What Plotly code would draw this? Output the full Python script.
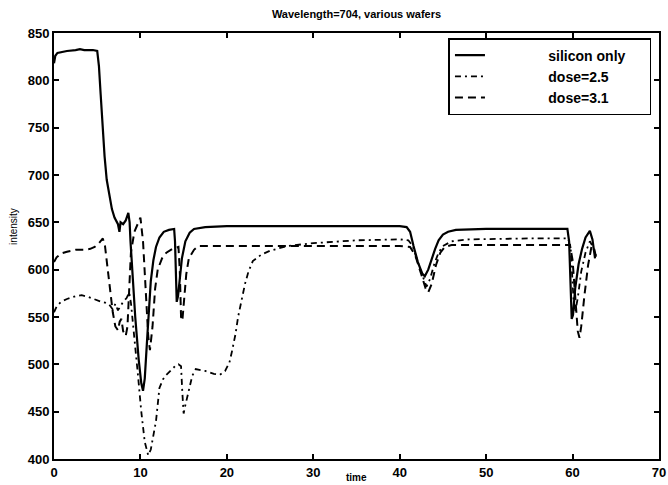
import plotly.graph_objects as go

# ---- data ----
si_t = [0, 0.15, 0.4, 0.8, 1.5, 2.5, 3.0, 3.5, 4.5, 5.0, 5.2, 5.4, 5.6, 5.85, 6.1, 6.4, 6.7, 7.0,
        7.2, 7.4, 7.57, 7.7, 8.0, 8.3, 8.6, 8.75, 8.85, 9.1, 9.4, 9.8, 10.1, 10.3, 10.5, 10.8,
        11.2, 11.5, 11.8, 12.2, 12.7, 13.3, 13.9, 14.0, 14.1, 14.2, 14.35, 14.5, 14.8, 15.2,
        15.7, 16.2, 17.5, 20, 25, 30, 35, 40, 40.8, 41.2, 41.6, 42.1, 42.6, 42.9, 43.3, 43.7,
        44.1, 44.5, 45.0, 45.6, 46.5, 50, 55, 59.4, 59.6, 59.75, 59.9, 60.05, 60.3, 60.7, 61.1,
        61.5, 62.0, 62.3, 62.6]
si_v = [818, 826, 829, 830, 831, 832, 833, 832, 832, 831, 815, 785, 755, 720, 695, 678, 664, 655,
        652, 648, 640, 650, 648, 652, 660, 650, 630, 588, 550, 505, 480, 472, 485, 530,
        588, 610, 624, 634, 640, 642, 643, 630, 580, 566, 572, 585, 612, 630,
        639, 643, 645, 646, 646, 646, 646, 646, 645, 640, 625, 608, 596, 593, 600, 612,
        622, 631, 637, 640, 642, 643, 643, 643, 630, 590, 548, 552, 580, 606, 622,
        634, 641, 632, 612]

d25_t = [0, 0.3, 0.8, 1.5, 2.5, 3.2, 4.0, 4.8, 5.5, 6.0, 6.4, 6.8, 7.1, 7.4, 7.7, 8.0, 8.4, 8.7,
         8.9, 9.3, 9.7, 10.1, 10.5, 10.9, 11.2, 11.5, 11.8, 12.2, 12.6, 12.9, 13.5, 14.0, 14.4,
         14.7, 14.85, 15.0, 15.15, 15.4, 15.6, 16.0, 16.4, 17.0, 17.5, 18.5, 19.2, 19.8, 20.3,
         20.6, 21.0, 21.3, 21.7, 22.1, 22.5, 23.0, 24, 25, 27, 30, 35, 40, 41.0, 41.5, 42.2,
         42.8, 43.1, 43.5, 44.0, 44.5, 45.0, 46.0, 48, 55, 59.5, 59.8, 60.1, 60.3, 60.6, 61.0,
         61.5, 62.0, 62.3, 62.7]
d25_v = [555, 561, 566, 569, 572, 573, 571, 568, 566, 565, 563, 558, 564, 557, 562, 566, 570, 576,
         565, 530, 490, 450, 418, 404, 410, 425, 440, 475, 484, 488, 494, 498, 500,
         498, 470, 448, 455, 465, 474, 488, 495, 494, 493, 490, 489, 493, 502,
         514, 532, 550, 568, 585, 598, 609, 616, 620, 625, 628, 631, 632, 631, 625, 605,
         588, 582, 590, 606, 618, 625, 630, 632, 633, 633, 620, 570, 555, 570, 598,
         618, 630, 625, 615]

d31_t = [0, 0.3, 0.8, 1.5, 2.5, 3.5, 4.2, 4.7, 5.2, 5.65, 5.9, 6.1, 6.4, 6.8, 7.1, 7.4, 7.6, 7.8,
         8.0, 8.3, 8.5, 8.7, 8.9, 9.3, 9.7, 10.0, 10.3, 10.6, 10.9, 11.1, 11.4, 11.7, 12.0, 12.5,
         13.0, 13.7, 14.4, 14.55, 14.7, 14.85, 15.0, 15.3, 15.6, 16.2, 16.7, 18, 20, 25, 30, 35,
         40, 41.2, 41.8, 42.5, 43.0, 43.3, 43.7, 44.2, 44.7, 45.2, 46, 50, 55, 59.7, 60.0, 60.3,
         60.6, 60.8, 61.0, 61.4, 61.8, 62.2, 62.5, 62.8]
d31_v = [608, 613, 617, 619, 621, 621, 622, 624, 628, 633, 625, 610, 585, 555, 540, 536, 545, 548,
         535, 530, 540, 575, 618, 640, 648, 655, 630, 580, 530, 515, 540, 580, 600, 612,
         618, 622, 624, 600, 550, 546, 565, 595, 612, 621, 625, 625, 625, 625, 625, 625,
         625, 624, 615, 595, 580, 576, 585, 605, 618, 624, 626, 626, 626, 626, 610, 570,
         535, 528, 540, 575, 605, 625, 622, 610]

series_names = ["silicon only", "dose=2.5", "dose=3.1"]
x_ticks = [0, 10, 20, 30, 40, 50, 60, 70]
y_ticks = [400, 450, 500, 550, 600, 650, 700, 750, 800, 850]

FONT = "Liberation Sans, Arial, sans-serif"
PAD_L = "\u00a0" * 15
PAD_R = "\u00a0" * 5

fig = go.Figure()
fig.add_trace(go.Scatter(x=si_t, y=si_v, mode="lines", name=PAD_L + series_names[0] + PAD_R,
                         line=dict(color="black", width=2.2, dash="solid")))
fig.add_trace(go.Scatter(x=d25_t, y=d25_v, mode="lines", name=PAD_L + series_names[1] + PAD_R,
                         line=dict(color="black", width=1.8, dash="6px,4px,2px,4px")))
fig.add_trace(go.Scatter(x=d31_t, y=d31_v, mode="lines", name=PAD_L + series_names[2] + PAD_R,
                         line=dict(color="black", width=2.0, dash="8px,5px")))

axis_common = dict(showline=True, linecolor="black", linewidth=2, mirror="ticks",
                   ticks="inside", ticklen=5, tickwidth=1.5, tickcolor="black",
                   showgrid=False, zeroline=False, ticklabeloverflow="allow",
                   tickfont=dict(family=FONT, size=13, color="black", weight="bold"))

fig.update_layout(
    width=668, height=485,
    margin=dict(l=54, r=2, t=33, b=26),
    paper_bgcolor="white", plot_bgcolor="white",
    title=dict(text="Wavelength=704, various wafers", x=0.5, xref="paper",
               y=1 - 14 / 485, yanchor="middle",
               font=dict(family=FONT, size=11, color="black", weight="bold")),
    xaxis=dict(range=[0, 70], tickvals=x_ticks, **axis_common),
    yaxis=dict(range=[400, 850], tickvals=y_ticks, **axis_common),
    legend=dict(x=0.652, y=0.988, xanchor="left", yanchor="top",
                bordercolor="black", borderwidth=1.5, bgcolor="white",
                font=dict(family=FONT, size=14, color="black", weight="bold"),
                tracegroupgap=0),
    showlegend=True,
    annotations=[
        dict(text="time", xref="paper", yref="paper", x=0.5, y=-0.044,
             showarrow=False, yanchor="middle",
             font=dict(family=FONT, size=10, color="black", weight="bold")),
        dict(text="intensity", xref="paper", yref="paper", x=-0.066, y=0.545,
             showarrow=False, textangle=-90, xanchor="center", yanchor="middle",
             font=dict(family=FONT, size=10, color="black")),
    ],
)

fig.write_html("out.html")
